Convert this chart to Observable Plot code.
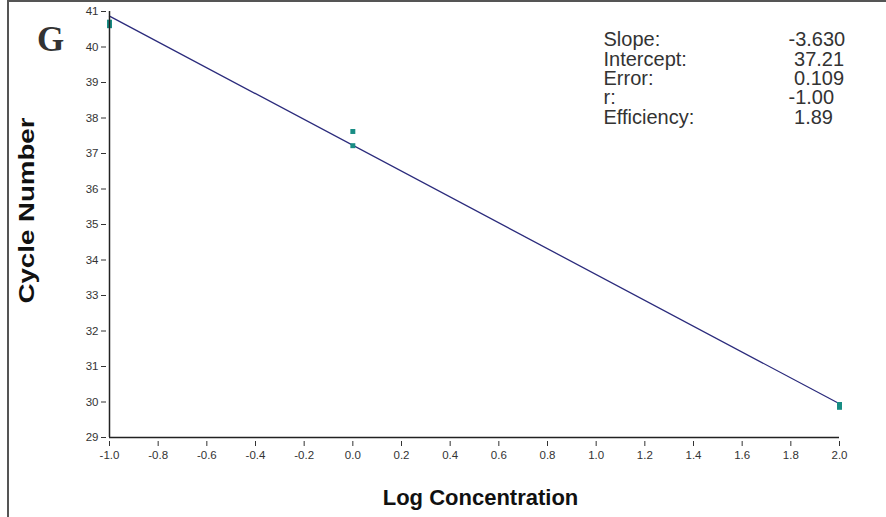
<!DOCTYPE html>
<html>
<head>
<meta charset="utf-8">
<script src="https://cdn.jsdelivr.net/npm/d3@7"></script>
<script src="https://cdn.jsdelivr.net/npm/@observablehq/plot@0.6"></script>
<style>
  html, body { margin: 0; padding: 0; background: #fff; }
  #wrap { position: relative; width: 886px; height: 517px; overflow: hidden; }
  #border { position: absolute; left: 7px; top: 0px; width: 900px; height: 540px;
            border-left: 2px solid #555; border-top: 2px solid #555; }
  #chart { position: absolute; left: 0; top: 0; }
  svg text { white-space: pre; }
</style>
</head>
<body>
<div id="wrap"><div id="border"></div><div id="chart"></div></div>
<script>
// Data
const concX = [-1, -1, 0, 0, 2, 2];
const cycleY = [40.7, 40.6, 37.62, 37.22, 29.93, 29.85];
const fitX = [-1, 2];
const fitY = [40.87, 29.95];
const xTicks = [-1.0, -0.8, -0.6, -0.4, -0.2, 0.0, 0.2, 0.4, 0.6, 0.8, 1.0, 1.2, 1.4, 1.6, 1.8, 2.0];
const yTicks = [29, 30, 31, 32, 33, 34, 35, 36, 37, 38, 39, 40, 41];
const statLabels = ["Slope:", "Intercept:", "Error:", "r:", "Efficiency:"];
const statValues = ["-3.630", "37.21", "0.109", "-1.00", "1.89"];
const panelLetter = "G";
const xTitle = "Log Concentration";
const yTitle = "Cycle Number";

const points = concX.map((x, i) => ({x, y: cycleY[i]}));
const fit = fitX.map((x, i) => ({x, y: fitY[i]}));
const valuesText = statValues.map(v => v.startsWith("-") ? v : " " + v).join("\n");

const chart = Plot.plot({
  width: 886,
  height: 517,
  marginLeft: 109,
  marginRight: 47,
  marginTop: 11,
  marginBottom: 80,
  style: {fontFamily: "'Liberation Sans', Arial, sans-serif", background: "transparent"},
  x: {domain: [-1, 2]},
  y: {domain: [29, 41]},
  marks: [
    Plot.axisX({ticks: xTicks, tickFormat: d => d.toFixed(1), tickSize: 5, tickPadding: 4, dy: 4,
                fontSize: 11.5, fill: "#333", stroke: "#333", label: null}),
    Plot.axisY({ticks: yTicks, tickSize: 5, tickPadding: 3, dx: -3,
                fontSize: 11.5, fill: "#333", stroke: "#333", label: null}),
    Plot.line(fit, {x: "x", y: "y", stroke: "#2b2b7c", strokeWidth: 1.3}),
    Plot.dot(points, {x: "x", y: "y", symbol: "square", r: 2.8, fill: "#188d84", stroke: "none"}),
    Plot.ruleX([-1], {stroke: "#222", strokeWidth: 1.5}),
    Plot.ruleY([29], {stroke: "#222", strokeWidth: 1.5}),
    Plot.text([panelLetter], {frameAnchor: "top-left", dx: -59, dy: 15, lineAnchor: "top", textAnchor: "middle",
                fontSize: 35, fontWeight: "bold", fontFamily: "'Liberation Serif', 'Times New Roman', serif", fill: "#333"}),
    Plot.text([statLabels.join("\n")], {frameAnchor: "top-right", dx: -236, dy: 21, lineAnchor: "top",
                textAnchor: "start", fontSize: 20, lineHeight: 0.97, fill: "#333"}),
    Plot.text([valuesText], {frameAnchor: "top-right", dx: -51, dy: 21, lineAnchor: "top",
                textAnchor: "start", fontSize: 20, lineHeight: 0.97, fill: "#333"}),
    Plot.text([xTitle], {frameAnchor: "bottom", dx: 6, dy: 52, lineAnchor: "top", textAnchor: "middle",
                fontSize: 22, fontWeight: "bold", fill: "#111"}),
    Plot.text([yTitle], {frameAnchor: "left", dx: -83, dy: -14, rotate: -90, textAnchor: "middle",
                fontSize: 22, fontWeight: "bold", fill: "#111"})
  ]
});

d3.select(chart).selectAll("text").filter(function() { return this.textContent === yTitle; })
  .attr("textLength", 186).attr("lengthAdjust", "spacingAndGlyphs");

document.getElementById("chart").appendChild(chart);
</script>
</body>
</html>
